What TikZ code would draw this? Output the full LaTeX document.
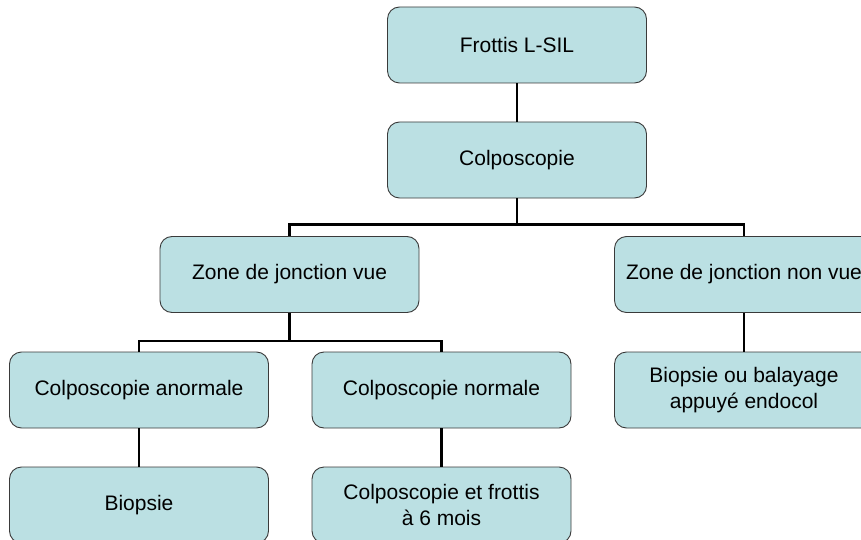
\documentclass[tikz,border=0pt]{standalone}
\usepackage{fontspec}
\setmainfont{Liberation Sans}
\definecolor{boxfill}{HTML}{BBE0E3}
\definecolor{boxline}{HTML}{3A3A3A}
\begin{document}
\begin{tikzpicture}[x=1pt,y=-1pt,
  flowbox/.style={draw=boxline,line width=0.9pt,fill=boxfill,rounded corners=12pt,
    minimum width=259pt,minimum height=76pt,inner sep=0pt,align=center,
    font=\fontsize{21}{25.5}\selectfont},
  link/.style={line width=2.8pt,black}]
\useasboundingbox (0,0) rectangle (861,540);
\clip (0,0) rectangle (861,540);
\node[flowbox] (frottis) at (517,45) {Frottis L-SIL};
\node[flowbox] (colpo) at (517,160) {Colposcopie};
\node[flowbox] (vue) at (289.5,274.5) {Zone de jonction vue};
\node[flowbox] (nonvue) at (744,274.5) {Zone de jonction non vue};
\node[flowbox] (anorm) at (139,390) {Colposcopie anormale};
\node[flowbox] (norm) at (441.5,390) {Colposcopie normale};
\node[flowbox] (balay) at (744,390) {Biopsie ou balayage\\appuyé endocol};
\node[flowbox] (biopsie) at (139,505) {Biopsie};
\node[flowbox] (suivi) at (441.5,505) {Colposcopie et frottis\\à 6 mois};
\draw[link] (frottis.south) -- (colpo.north);
\draw[link] (colpo.south) -- ++(0,26) -| (vue.north);
\draw[link] (colpo.south) -- ++(0,26) -| (nonvue.north);
\draw[link] (vue.south) -- ++(0,28) -| (anorm.north);
\draw[link] (vue.south) -- ++(0,28) -| (norm.north);
\draw[link] (nonvue.south) -- (balay.north);
\draw[link] (anorm.south) -- (biopsie.north);
\draw[link] (norm.south) -- (suivi.north);
\end{tikzpicture}
\end{document}
